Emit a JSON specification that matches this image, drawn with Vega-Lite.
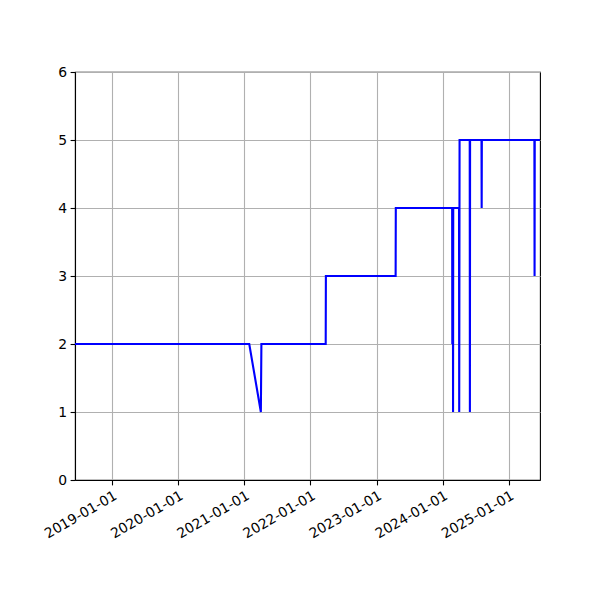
{
  "$schema": "https://vega.github.io/schema/vega-lite/v6.json",
  "autosize": "none",
  "width": 465,
  "height": 408,
  "padding": {"left": 75, "top": 72, "right": 60, "bottom": 120},
  "background": "white",
  "config": {
    "view": {"stroke": "black", "strokeWidth": 1.1},
    "axis": {
      "labelFont": "DejaVu Sans",
      "labelFontSize": 13.9,
      "labelColor": "black",
      "domainColor": "black",
      "domainWidth": 1.1,
      "tickColor": "black",
      "tickWidth": 1.1,
      "tickSize": 4.9,
      "labelPadding": 3.5,
      "gridColor": "#b0b0b0",
      "gridWidth": 1.1,
      "labelOverlap": false,
      "labelFlush": false,
      "title": null
    }
  },
  "data": {
    "values": [
      {"date": "2018-06-11", "value": 2},
      {"date": "2021-01-28", "value": 2},
      {"date": "2021-04-02", "value": 1},
      {"date": "2021-04-05", "value": 2},
      {"date": "2022-03-26", "value": 2},
      {"date": "2022-03-27", "value": 3},
      {"date": "2023-04-16", "value": 3},
      {"date": "2023-04-17", "value": 4},
      {"date": "2024-02-22", "value": 4},
      {"date": "2024-02-23", "value": 2},
      {"date": "2024-02-24", "value": 4},
      {"date": "2024-02-26", "value": 4},
      {"date": "2024-02-27", "value": 1},
      {"date": "2024-02-28", "value": 4},
      {"date": "2024-03-31", "value": 4},
      {"date": "2024-04-01", "value": 1},
      {"date": "2024-04-03", "value": 5},
      {"date": "2024-05-29", "value": 5},
      {"date": "2024-05-30", "value": 1},
      {"date": "2024-05-31", "value": 5},
      {"date": "2024-08-02", "value": 5},
      {"date": "2024-08-03", "value": 4},
      {"date": "2024-08-04", "value": 5},
      {"date": "2025-05-21", "value": 5},
      {"date": "2025-05-22", "value": 3},
      {"date": "2025-05-23", "value": 5},
      {"date": "2025-06-21", "value": 5}
    ]
  },
  "mark": {"type": "line", "color": "#0000ff", "strokeWidth": 2.1, "clip": true},
  "encoding": {
    "x": {
      "field": "date",
      "type": "temporal",
      "scale": {
        "type": "utc",
        "domain": [
          {"year": 2018, "month": 6, "date": 11, "utc": true},
          {"year": 2025, "month": 6, "date": 21, "utc": true}
        ]
      },
      "axis": {
        "values": [
          {"year": 2019, "month": 1, "date": 1, "utc": true},
          {"year": 2020, "month": 1, "date": 1, "utc": true},
          {"year": 2021, "month": 1, "date": 1, "utc": true},
          {"year": 2022, "month": 1, "date": 1, "utc": true},
          {"year": 2023, "month": 1, "date": 1, "utc": true},
          {"year": 2024, "month": 1, "date": 1, "utc": true},
          {"year": 2025, "month": 1, "date": 1, "utc": true}
        ],
        "labelExpr": "utcFormat(datum.value, '%Y-%m-%d')",
        "labelAngle": -30,
        "labelAlign": "right",
        "labelBaseline": "top",
        "grid": true
      }
    },
    "y": {
      "field": "value",
      "type": "quantitative",
      "scale": {"domain": [0, 6], "nice": false, "zero": false},
      "axis": {"values": [0, 1, 2, 3, 4, 5, 6], "grid": true}
    }
  }
}
